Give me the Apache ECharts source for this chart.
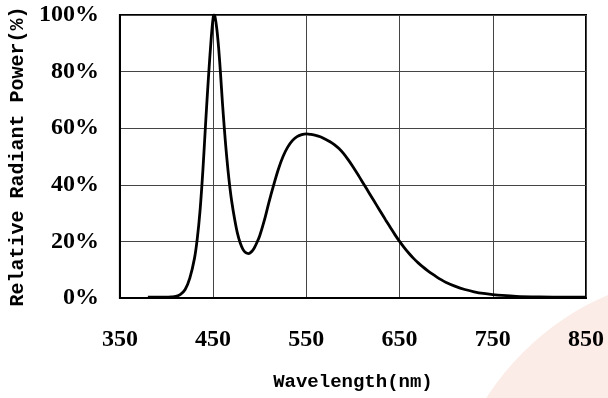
<!DOCTYPE html>
<html>
<head>
<meta charset="utf-8">
<script src="https://cdn.jsdelivr.net/npm/echarts@6/dist/echarts.min.js"></script>
<style>
  html, body { margin: 0; padding: 0; background: #fff; }
  #chart { width: 608px; height: 398px; }
</style>
</head>
<body>
<div id="chart"></div>
<script>
// wavelength (nm) and relative radiant power (%)
const wavelength = [380, 385, 390, 395, 400, 405, 410, 415, 420, 425, 430, 433, 436, 439, 442, 445, 448, 450, 451,
  452, 454, 456, 458, 460, 462, 464, 466, 468, 470, 473, 476, 479, 482, 485, 488, 491, 494, 497, 500,
  505, 510, 515, 520, 525, 530, 535, 540, 545, 550, 555, 560, 565, 570, 575, 580, 585, 590, 595, 600,
  605, 610, 615, 620, 625, 630, 635, 640, 645, 650, 655, 660, 665, 670, 675, 680, 685, 690, 695, 700,
  710, 720, 730, 740, 750, 760, 775, 800, 825, 850]
const power = [0.3, 0.3, 0.3, 0.3, 0.3, 0.4, 0.6, 1.3, 3, 7, 14, 21, 31, 45, 62, 78, 92, 99, 100,
  99.5, 95, 88, 79, 69, 60, 52, 45, 39, 34, 28, 23, 19.5, 17.2, 16, 15.7, 16.3, 17.6, 19.6, 22,
  27.5, 34, 40, 45.5, 50, 53.3, 55.6, 57, 57.7, 58, 57.8, 57.5, 57, 56.2, 55.3, 54.2, 52.8, 51, 48.8, 46.4,
  43.8, 41.1, 38.4, 35.7, 33, 30.3, 27.6, 25, 22.4, 20, 17.8, 15.8, 14, 12.4, 11, 9.7, 8.5, 7.4, 6.4, 5.5,
  4.1, 3, 2.2, 1.6, 1.2, 0.9, 0.6, 0.4, 0.3, 0.3]

const xTicks = [350, 450, 550, 650, 750, 850]
const yTicks = [0, 20, 40, 60, 80, 100]

const chart = echarts.init(document.getElementById('chart'))

const labelFont = {
  fontFamily: 'Liberation Serif',
  fontWeight: 'bold',
  fontSize: 24,
  color: '#000',
}

const nameFont = {
  fontFamily: 'Liberation Mono',
  fontWeight: 'bold',
  fontSize: 19,
  color: '#000',
}

const option = {
  animation: false,
  backgroundColor: '#fff',
  graphic: [
    {
      // faint pink watermark arc in the corner
      type: 'circle',
      z: -10,
      silent: true,
      shape: { cx: 715, cy: 545, r: 272 },
      style: { fill: '#fcece8' },
    },
  ],
  grid: {
    left: 119,
    right: 22,
    top: 15,
    bottom: 100,
    show: true,
    borderColor: '#000',
    borderWidth: 2,
    backgroundColor: '#fff',
  },
  xAxis: {
    type: 'value',
    min: xTicks[0],
    max: xTicks[xTicks.length - 1],
    interval: 100,
    name: 'Wavelength(nm)',
    nameLocation: 'middle',
    nameGap: 75,
    nameTextStyle: nameFont,
    axisLine: { show: true, lineStyle: { color: '#000', width: 2 } },
    axisTick: { show: false },
    axisLabel: Object.assign({ margin: 30 }, labelFont),
    splitLine: { show: true, lineStyle: { color: '#444', width: 1 } },
  },
  yAxis: {
    type: 'value',
    min: yTicks[0],
    max: yTicks[yTicks.length - 1],
    interval: 20,
    name: 'Relative Radiant Power(%)',
    nameLocation: 'middle',
    nameGap: 91,
    nameTextStyle: Object.assign({}, nameFont, { fontSize: 20 }),
    axisLine: { show: true, lineStyle: { color: '#000', width: 2 } },
    axisTick: { show: false },
    axisLabel: Object.assign({ margin: 21, formatter: '{value}%' }, labelFont),
    splitLine: { show: true, lineStyle: { color: '#444', width: 1 } },
  },
  series: [
    {
      type: 'line',
      data: wavelength.map((w, i) => [w, power[i]]),
      smooth: 0.3,
      symbol: 'none',
      lineStyle: { color: '#000', width: 2.8 },
      z: 5,
    },
  ],
}

chart.setOption(option)
</script>
</body>
</html>
